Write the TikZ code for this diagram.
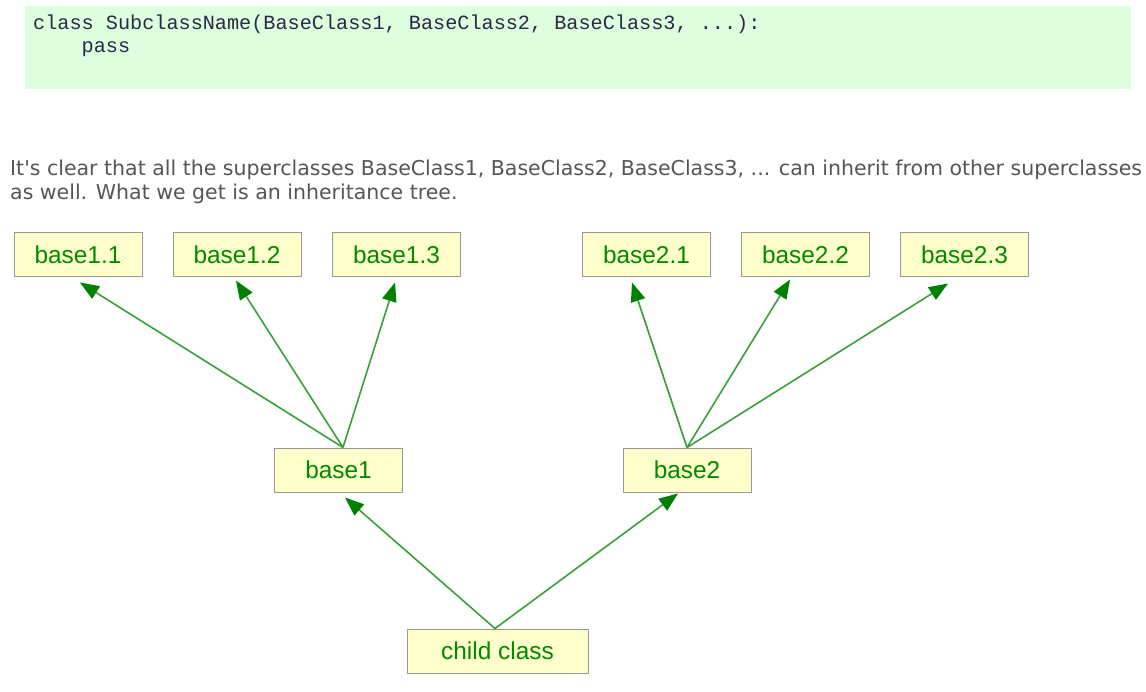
\documentclass[tikz,border=0pt]{standalone}
\usepackage{fontspec}
\newfontfamily\bodyfont{DejaVu Sans}
\newfontfamily\codefont{Liberation Mono}
\newfontfamily\boxfont{Liberation Sans}
\usetikzlibrary{calc,arrows.meta}
\definecolor{codebg}{HTML}{DDFFDD}
\definecolor{codefg}{HTML}{2A2A48}
\definecolor{bodyfg}{HTML}{555555}
\definecolor{boxbg}{HTML}{FFFFCC}
\definecolor{boxdraw}{HTML}{999999}
\definecolor{boxfg}{HTML}{008A00}
\definecolor{linefg}{HTML}{3A9E3A}
\definecolor{tipfg}{HTML}{008000}
\tikzset{
  cls/.style={draw=boxdraw, line width=1pt, fill=boxbg, minimum width=128pt, minimum height=44pt, inner sep=0pt,
    font=\boxfont\fontsize{24.4}{27}\selectfont, text=boxfg},
  inh/.style={draw=linefg, line width=1.6pt, -{Triangle[length=19pt,width=15pt,fill=tipfg,line width=0pt]}},
  codeline/.style={anchor=base west, inner sep=0pt, font=\codefont\fontsize{20.2}{22}\selectfont, text=codefg},
  bodyline/.style={anchor=base west, inner sep=0pt, font=\bodyfont\fontsize{20.5}{24}\selectfont, text=bodyfg}
}
\begin{document}
\begin{tikzpicture}[x=1pt,y=-1pt]
\useasboundingbox (0,0) rectangle (1146,692);
\fill[codebg] (25,6) rectangle (1131,89);
\node[codeline] (code1) at (33,30) {class SubclassName(BaseClass1, BaseClass2, BaseClass3, ...):};
\node[codeline] (code2) at (33,53) {\ \ \ \ pass};
\node[bodyline] (txt1) at (10,176) {It's clear that all the superclasses BaseClass1, BaseClass2, BaseClass3, ... can inherit from other superclasses};
\node[bodyline] (txt2) at (10,200) {as well. What we get is an inheritance tree.};

\node[cls] (b11) at (78,255) {base1.1};
\node[cls] (b12) at (237,255) {base1.2};
\node[cls] (b13) at (396.5,255) {base1.3};
\node[cls] (b21) at (646.5,255) {base2.1};
\node[cls] (b22) at (805.5,255) {base2.2};
\node[cls] (b23) at (964.5,255) {base2.3};
\node[cls] (b1) at (338.5,470) {base1};
\node[cls] (b2) at (687,470) {base2};
\node[cls, minimum width=181pt] (ch) at (497.5,651) {child class};

\draw[inh] ($(b1.north)+(4.5,0)$) -- ($(b11.south)+(2,5)$);
\draw[inh] ($(b1.north)+(4.5,0)$) -- ($(b12.south)+(-1,3)$);
\draw[inh] ($(b1.north)+(4.5,0)$) -- ($(b13.south)+(-1.5,5)$);
\draw[inh] (b2.north) -- ($(b21.south)+(-14.5,5)$);
\draw[inh] (b2.north) -- ($(b22.south)+(-15.5,2)$);
\draw[inh] (b2.north) -- ($(b23.south)+(-16.5,6)$);
\draw[inh] ($(ch.north)+(-2.5,0)$) -- ($(b1.south)+(6.5,5)$);
\draw[inh] ($(ch.north)+(-2.5,0)$) -- ($(b2.south)+(-9,1)$);
\end{tikzpicture}
\end{document}
